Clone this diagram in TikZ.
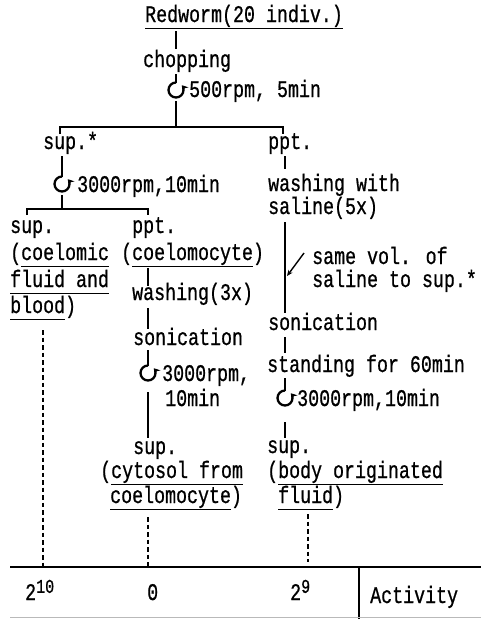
\documentclass[tikz,border=0pt]{standalone}
\usepackage{fontspec}
\setmainfont{Liberation Mono}
\newfontfamily\typefont{Liberation Mono}[FakeBold=0.9]
\usetikzlibrary{arrows.meta}
% underline drawn as a rule at a fixed depth below the baseline
\newcommand{\undl}[1]{\leavevmode\setbox0=\hbox{#1}\rlap{\rule[-5.4pt]{\wd0}{0.9pt}}\box0}
% typewriter labels are set a little taller than the font's own shape
\newcommand{\lbl}[1]{\scalebox{1}[1.3]{#1}}

\tikzset{
  txt/.style={anchor=base west, inner sep=0pt, font=\typefont\fontsize{18.3}{22}\selectfont},
  flow/.style={line width=1.6pt},
  bar/.style={line width=1.4pt},
  assay/.style={line width=1.3pt, dash pattern=on 4.5pt off 3pt},
  spin/.pic={\draw[line width=2.3pt, -{Stealth[length=6pt,width=7.5pt]}]
      (0,-7.5) arc[start angle=270, end angle=-40, radius=7.5];}
}

\begin{document}
\begin{tikzpicture}[x=1pt, y=-1pt]
\useasboundingbox[fill=white] (0,0) rectangle (481,619);

% ---- start material ----
\node[txt] (red)  at (145,22) {\lbl{\undl{Redworm(20 indiv.)}}};
\node[txt] (chop) at (143,67) {\lbl{chopping}};
\coordinate (s1) at (176,90);
\pic at (s1) {spin};
\node[txt] (c1) at (189,97) {\lbl{500rpm, 5min}};
\coordinate (r1) at (176,31);  \coordinate (r2) at (176,49);
\coordinate (r3) at (176,74);  \coordinate (r4) at (176,83);
\coordinate (r5) at (176,101); \coordinate (b1) at (176,127);
\draw[flow] (r1) -- (r2);
\draw[flow] (r3) -- (r4);
\draw[flow] (r5) -- (b1);
\coordinate (b1l) at (60,127); \coordinate (b1r) at (283,127);
\draw[bar] (b1l) ++(0,7) -- (b1l) -- (b1r) -- ++(0,7);

% ---- supernatant branch ----
\node[txt] (sup1) at (43,149) {\lbl{sup.*}};
\coordinate (s2) at (62,184);
\pic at (s2) {spin};
\node[txt] (c2) at (77,192) {\lbl{3000rpm,10min}};
\coordinate (l1) at (62,156); \coordinate (l2) at (62,177);
\coordinate (l3) at (62,195); \coordinate (b2) at (62,209);
\draw[flow] (l1) -- (l2);
\draw[flow] (l3) -- (b2);
\coordinate (b2l) at (27,209); \coordinate (b2r) at (148,209);
\draw[bar] (b2l) ++(0,6) -- (b2l) -- (b2r) -- ++(0,6);

\node[txt] (sup2) at (10,233) {\lbl{sup.}};
\node[txt] (cf1)  at (10,260) {\lbl{(\undl{coelomic}}};
\node[txt] (cf2)  at (10,287) {\lbl{\undl{fluid and}}};
\node[txt] (cf3)  at (10,313) {\lbl{\undl{blood})}};

\node[txt] (ppt2) at (132,233) {\lbl{ppt.}};
\node[txt] (cc)   at (121,260) {\lbl{(\undl{coelomocyte})}};
\node[txt] (wash3) at (132,300) {\lbl{washing(3x)}};
\node[txt] (son1) at (133,345) {\lbl{sonication}};
\coordinate (s3) at (148,373);
\pic at (s3) {spin};
\node[txt] (c3a) at (162,381) {\lbl{3000rpm,}};
\node[txt] (c3b) at (165,406) {\lbl{10min}};
\node[txt] (sup3) at (133,454) {\lbl{sup.}};
\node[txt] (cy1) at (100,478) {\lbl{(\undl{cytosol from}}};
\node[txt] (cy2) at (110,503) {\lbl{\undl{coelomocyte})}};
\coordinate (m1) at (148,268); \coordinate (m2) at (148,286);
\coordinate (m3) at (148,308); \coordinate (m4) at (148,329);
\coordinate (m5) at (148,350); \coordinate (m6) at (148,365.5);
\coordinate (m7) at (148,392); \coordinate (m8) at (148,438);
\draw[flow] (m1) -- (m2);
\draw[flow] (m3) -- (m4);
\draw[flow] (m5) -- (m6);
\draw[flow] (m7) -- (m8);

% ---- precipitate branch ----
\node[txt] (ppt1) at (268,149) {\lbl{ppt.}};
\node[txt] (w5a) at (268,191) {\lbl{washing with}};
\node[txt] (w5b) at (268,214) {\lbl{saline(5x)}};
\node[txt] (sv1) at (312,264) {\lbl{same vol. of}};
\node[txt] (sv2) at (312,287) {\lbl{saline to sup.*}};
\node[txt] (son2) at (268,330) {\lbl{sonication}};
\node[txt] (stand) at (267,372) {\lbl{standing for 60min}};
\coordinate (s4) at (285,398);
\pic at (s4) {spin};
\node[txt] (c4) at (297,406) {\lbl{3000rpm,10min}};
\node[txt] (sup4) at (267,453) {\lbl{sup.}};
\node[txt] (bf1) at (267,478) {\lbl{(\undl{body originated}}};
\node[txt] (bf2) at (278,503) {\lbl{\undl{fluid})}};
\coordinate (p1) at (285,156); \coordinate (p2) at (285,169);
\coordinate (p3) at (285,222); \coordinate (p4) at (285,313);
\coordinate (p5) at (285,337); \coordinate (p6) at (285,353);
\coordinate (p7) at (285,378); \coordinate (p8) at (285,390.5);
\coordinate (p9) at (285,422); \coordinate (p10) at (285,438);
\draw[flow] (p1) -- (p2);
\draw[flow] (p3) -- (p4);
\draw[flow] (p5) -- (p6);
\draw[flow] (p7) -- (p8);
\draw[flow] (p9) -- (p10);
\coordinate (a1) at (304,253); \coordinate (a2) at (287,276);
\draw[line width=1.4pt, -{Stealth[length=6pt,width=5pt]}] (a1) -- (a2);

% ---- activity row ----
\coordinate (t0) at (10,567); \coordinate (t1) at (481,567);
\coordinate (v0) at (359,567); \coordinate (v1) at (359,619);
\draw[bar] (t0) -- (t1);
\draw[bar] (v0) -- (v1);
\draw[gray!55, line width=0.8pt] (10,617) -- (481,617);
\coordinate (d1) at (43,330);  \coordinate (d1e) at (43,567);
\coordinate (d2) at (148,517); \coordinate (d2e) at (148,567);
\coordinate (d3) at (308,514); \coordinate (d3e) at (308,562);
\draw[assay] (d1) -- (d1e);
\draw[assay] (d2) -- (d2e);
\draw[assay, line width=1.8pt] (d3) -- (d3e);

\node[txt] (act1) at (25,600) {\lbl{2\raisebox{5.5pt}{\fontsize{15}{15}\selectfont 10}}};
\node[txt] (act2) at (147,600) {\lbl{0}};
\node[txt] (act3) at (290,600) {\lbl{2\raisebox{5.5pt}{\fontsize{15}{15}\selectfont 9}}};
\node[txt] (act)  at (370,603) {\lbl{Activity}};
\end{tikzpicture}
\end{document}
